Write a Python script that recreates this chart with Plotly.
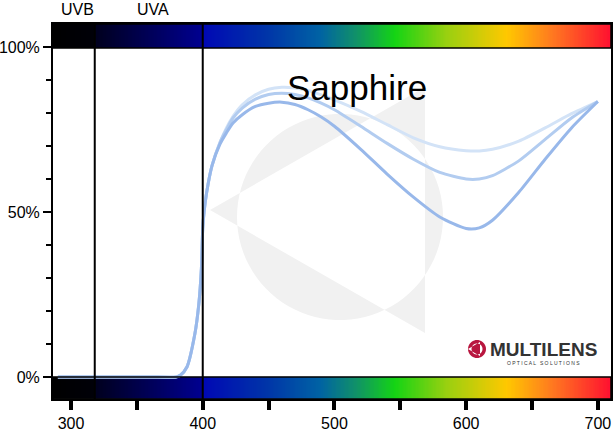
import numpy as np
import plotly.graph_objects as go

# ---- data ----
wavelength = [290, 300, 320, 340, 360, 380, 383, 388, 394, 397, 399, 400, 401, 403, 407,
              413, 418, 423, 430, 440, 450, 460, 470, 480, 490, 500, 520, 540, 560, 580,
              600, 610, 620, 640, 660, 680, 700]
t_light = [0, 0, 0, 0, 0, 0, 0.5, 3, 13, 22, 33, 45, 50, 56, 64,
           71, 75.5, 79, 82.5, 85.5, 87.2, 87.8, 87.6, 86.8, 85.5, 84, 80.5, 76.5, 72.5, 69.8,
           68.6, 68.5, 69, 71.5, 75.5, 79.8, 83.5]
t_mid = [0, 0, 0, 0, 0, 0, 0.5, 3, 13, 22, 33, 45, 50, 56, 64,
         71, 75, 78.5, 81.5, 84.2, 85.6, 86, 85.6, 84.6, 83, 81, 76, 70.8, 66, 62,
         60, 60, 61, 65.5, 72, 78.5, 83.5]
t_dark = [0, 0, 0, 0, 0, 0, 0.5, 3, 13, 22, 33, 45, 50, 56, 64,
          70.5, 74, 77, 79.5, 82, 83, 83.3, 82.6, 81, 78.8, 76, 69, 61.5, 54.5, 48.5,
          45, 45.2, 47.5, 56, 66, 75.5, 83.5]

x_ticks = [300, 400, 500, 600, 700]
y_ticks = [0, 50, 100]
uvb_uva_boundary = 318
uva_vis_boundary = 400

# spectrum colour stops (nm, colour)
spec_nm = [286, 317.5, 318.5, 399.5, 400.5, 448, 489, 516, 546, 585, 631, 666, 710]
spec_col = ["#000000", "#000008", "#00001e", "#000090", "#0008b4", "#0034a8", "#0062a4",
            "#10906a", "#14d414", "#98d010", "#ffc800", "#ff7820", "#ff1030"]

XR = [286.3, 710.0]
YR = [-6.7, 107.0]

# ---- figure geometry ----
W, H = 614, 431
ML, MR, MT, MB = 53, 3, 24, 32
pw, ph = W - ML - MR, H - MT - MB


def px2data(px, py):
    x = XR[0] + (px - ML) / pw * (XR[1] - XR[0])
    y = YR[1] - (py - MT) / ph * (YR[1] - YR[0])
    return x, y


fig = go.Figure()

# spectrum bars
edges = np.arange(XR[0], XR[1] + 1.0, 1.0)
centers = (edges[:-1] + edges[1:]) / 2
cs = [[(n - spec_nm[0]) / (spec_nm[-1] - spec_nm[0]), c] for n, c in zip(spec_nm, spec_col)]
for ys in ([99.7, YR[1]], [YR[0], 0.0]):
    fig.add_trace(go.Heatmap(x=edges, y=ys, z=[centers], colorscale=cs,
                             zmin=spec_nm[0], zmax=spec_nm[-1], showscale=False,
                             hoverinfo="skip", zsmooth=False))

# curves
for vals, col in ((t_light, "#d3e3f7"), (t_mid, "#b2ccf0"), (t_dark, "#98b8ea")):
    fig.add_trace(go.Scatter(x=wavelength, y=vals, mode="lines",
                             line=dict(color=col, width=3, shape="spline", smoothing=0.7),
                             hoverinfo="skip", showlegend=False))

shapes = []
# watermark (circle xor triangle)
cx, cy, r = 340, 217, 103
pts = []
for a in np.linspace(0, 2 * np.pi, 90, endpoint=False):
    pts.append(px2data(cx + r * np.cos(a), cy + r * np.sin(a)))
path = "M " + " L ".join(f"{x:.3f},{y:.3f}" for x, y in pts) + " Z "
tri = [px2data(210, 210), px2data(425, 87), px2data(425, 333)]
path += "M " + " L ".join(f"{x:.3f},{y:.3f}" for x, y in tri) + " Z"
shapes.append(dict(type="path", path=path, fillcolor="#f1f1f1", line=dict(width=0),
                   layer="below", fillrule="evenodd"))

# bar borders
shapes.append(dict(type="rect", x0=XR[0], x1=XR[1], y0=99.7, y1=YR[1],
                   line=dict(color="black", width=1.5)))
shapes.append(dict(type="rect", x0=XR[0], x1=XR[1], y0=YR[0], y1=0,
                   line=dict(color="black", width=1.5)))
# boundary lines
for xv in (uvb_uva_boundary, uva_vis_boundary):
    shapes.append(dict(type="line", x0=xv, x1=xv, y0=YR[0], y1=YR[1],
                       line=dict(color="black", width=2)))

# logo icon
lx, ly, lr = 477, 349, 9
lp = []
for a in np.linspace(0, 2 * np.pi, 40, endpoint=False):
    lp.append(px2data(lx + lr * np.cos(a), ly + lr * np.sin(a)))
lpath = "M " + " L ".join(f"{x:.3f},{y:.3f}" for x, y in lp) + " Z "
lp2 = []
for a in np.linspace(0, 2 * np.pi, 40, endpoint=False):
    lp2.append(px2data(lx + (lr - 3.5) * np.cos(a), ly + (lr - 3.5) * np.sin(a)))
lpath += "M " + " L ".join(f"{x:.3f},{y:.3f}" for x, y in lp2) + " Z "
ltri = [px2data(lx - lr, ly), px2data(lx + 3, ly - 7), px2data(lx + 3, ly + 7)]
lpath += "M " + " L ".join(f"{x:.3f},{y:.3f}" for x, y in ltri) + " Z"
shapes.append(dict(type="path", path=lpath, fillcolor="#b8163f", line=dict(width=0),
                   fillrule="evenodd"))

annotations = [
    dict(text="Sapphire", x=517, y=87.6, xref="x", yref="y", showarrow=False,
         font=dict(family="Liberation Sans, Arial", size=35, color="black")),
    dict(text="UVB", x=305, y=1 + 14 / ph, xref="x", yref="paper", showarrow=False,
         xanchor="center", yanchor="middle",
         font=dict(family="Liberation Sans, Arial", size=16, color="black")),
    dict(text="UVA", x=362, y=1 + 14 / ph, xref="x", yref="paper", showarrow=False,
         xanchor="center", yanchor="middle",
         font=dict(family="Liberation Sans, Arial", size=16, color="black")),
    dict(text="<b>MULTILENS</b>", x=px2data(543, 349)[0], y=px2data(543, 349)[1],
         xref="x", yref="y", showarrow=False,
         font=dict(family="Liberation Sans, Arial", size=19, color="#333333")),
    dict(text="O P T I C A L   S O L U T I O N S", x=px2data(543, 363)[0],
         y=px2data(543, 363)[1], xref="x", yref="y", showarrow=False,
         font=dict(family="Liberation Sans, Arial", size=5, color="#333333")),
]

fig.update_layout(
    width=W, height=H, margin=dict(l=ML, r=MR, t=MT, b=MB, autoexpand=False),
    paper_bgcolor="white", plot_bgcolor="white", showlegend=False,
    shapes=shapes, annotations=annotations,
    font=dict(family="Liberation Sans, Arial", color="black"),
    xaxis=dict(range=XR, showgrid=False, zeroline=False, showline=True, mirror=True,
               automargin=False,
               linecolor="black", linewidth=2, ticks="outside", tickvals=x_ticks,
               ticklen=9, tickwidth=4, tickcolor="black",
               tickfont=dict(size=16, family="Liberation Sans, Arial"),
               minor=dict(tickvals=[350, 450, 550, 650], ticks="outside", ticklen=9,
                          tickwidth=4, tickcolor="black")),
    yaxis=dict(range=YR, showgrid=False, zeroline=False, showline=True, mirror=True,
               automargin=False,
               linecolor="black", linewidth=2, ticks="outside", tickvals=y_ticks,
               ticktext=[f"{v}%" for v in y_ticks], ticklen=8, tickwidth=2,
               tickcolor="black", tickfont=dict(size=16, family="Liberation Sans, Arial"),
               minor=dict(tickvals=[10, 20, 30, 40, 60, 70, 80, 90], ticks="outside",
                          ticklen=5, tickwidth=2, tickcolor="black")),
)

fig.write_html("out.html", config={"displayModeBar": False},
               post_script="document.body.style.margin='0px';document.body.style.overflow='hidden';")
